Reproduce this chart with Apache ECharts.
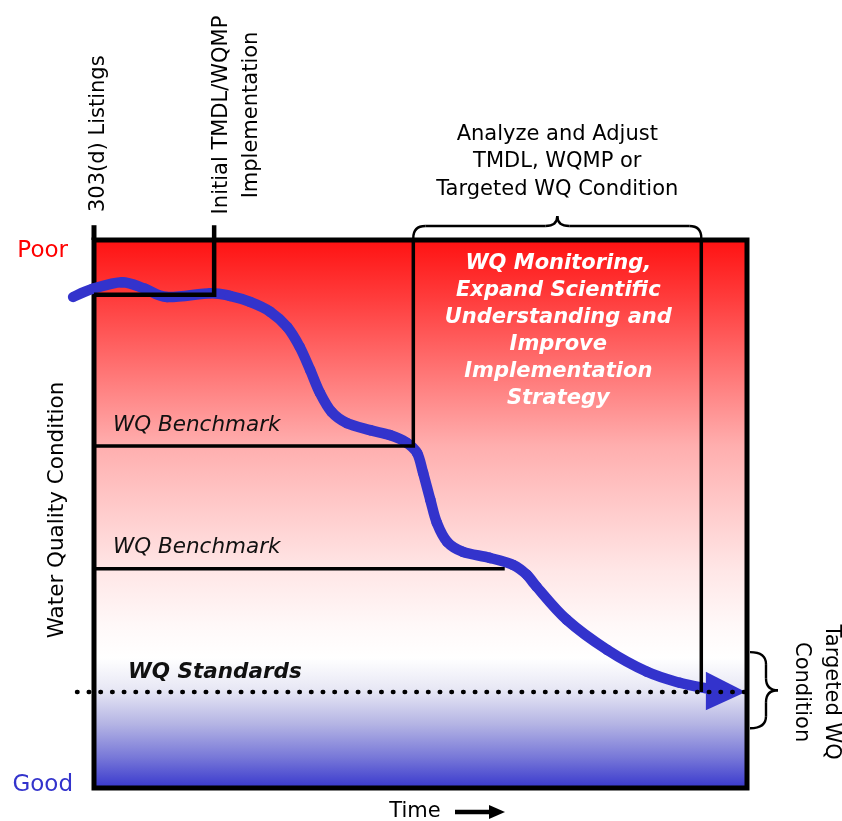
<!DOCTYPE html>
<html><head><meta charset="utf-8">
<script src="https://cdn.jsdelivr.net/npm/echarts@6/dist/echarts.min.js"></script>
<style>html,body{margin:0;padding:0;background:#fff}#c{width:842px;height:821px}</style>
</head><body><div id="c"></div>
<script>
// ---------- data: time runs 0..100 across the box, condition 0 = Good .. 100 = Poor ----------
const curveTime = [-3.2, -0.2, 4.3, 7.8, 11.2, 17.8, 20.8, 23.9, 27.0, 29.6, 31.5, 33.1, 34.6, 36.4, 38.7, 42.3, 45.3, 47.9, 49.5, 50.4, 51.5, 52.5, 54.1, 56.5, 60.6, 64.2, 66.3, 67.8, 72.4, 78.6, 84.7, 89.7, 93.7];
const curveCond = [89.6, 91.1, 92.3, 91.1, 89.6, 90.3, 89.8, 88.7, 86.9, 84.1, 80.5, 76.3, 72.1, 68.6, 66.6, 65.3, 64.4, 63.0, 61.1, 57.5, 52.6, 48.4, 44.9, 43.1, 42.0, 40.7, 38.9, 36.7, 30.7, 25.2, 21.2, 19.2, 18.2];
const arrowHead = [93.7, 21.2, 14.2, 99.8, 17.5]; // base time, base top, base bottom, tip time, tip condition

const listingTime = 0;
const tmdlTime = 18.4;
const adjustStart = 48.9;
const adjustEnd = 93.0;
const bench2End = 62.9;
const markerTop = 102.7;
const initialLevel = 90.0;
const bench1Level = 62.4;
const bench2Level = 40.0;
const standardLevel = 17.5;
const standardStart = -2.6;
const targetHigh = 24.8;
const targetLow = 10.9;

const eventLabels = ['303(d) Listings', 'Initial TMDL/WQMP\nImplementation'];
const adjustLabel = 'Analyze and Adjust\nTMDL, WQMP or\nTargeted WQ Condition';
const monitorLabel = 'WQ Monitoring,\nExpand Scientific\nUnderstanding and\nImprove\nImplementation\nStrategy';
const benchLabel = 'WQ Benchmark';
const standardLabel = 'WQ Standards';
const targetLabel = 'Targeted WQ\nCondition';
const yTitle = 'Water Quality Condition';
const yEnds = ['Poor', 'Good'];
const xTitle = 'Time';

// braces: [t1, c1, t2, c2]
const braces = [[adjustStart, 100, adjustEnd, 100], [100, targetHigh, 100, targetLow]];

// ---------- chart ----------
const FONT = '"DejaVu Sans", "Liberation Sans", sans-serif';
const BLUE = '#3333cc';
const chart = echarts.init(document.getElementById('c'));

const bg = new echarts.graphic.LinearGradient(0, 0, 0, 1, [
  {offset: 0, color: '#ff1010'},
  {offset: 0.11, color: '#ff3c3c'},
  {offset: 0.376, color: '#ffaeae'},
  {offset: 0.6, color: '#ffe6e6'},
  {offset: 0.7, color: '#fff8f8'},
  {offset: 0.76, color: '#ffffff'},
  {offset: 0.82, color: '#e6e6f4'},
  {offset: 0.88, color: '#b4b4e4'},
  {offset: 0.94, color: '#7878d8'},
  {offset: 1, color: BLUE}
]);

function seg(pts, width, extra) {
  return Object.assign({
    type: 'line', data: pts, symbol: 'none', clip: false, silent: true, z: 4,
    lineStyle: {color: '#000', width: width, join: 'miter', cap: 'butt'}
  }, extra || {});
}

// smooth trend curve: Catmull-Rom segment i -> i+1 through the data points
function curveItem(params, api) {
  const i = params.dataIndex;
  const n = curveTime.length;
  if (i >= n - 1) return null;
  const c = k => api.coord([curveTime[Math.max(0, Math.min(n - 1, k))], curveCond[Math.max(0, Math.min(n - 1, k))]]);
  const p0 = c(i - 1), p1 = c(i), p2 = c(i + 1), p3 = c(i + 2);
  return {type: 'bezierCurve', shape: {
      x1: p1[0], y1: p1[1], x2: p2[0], y2: p2[1],
      cpx1: p1[0] + (p2[0] - p0[0]) / 6, cpy1: p1[1] + (p2[1] - p0[1]) / 6,
      cpx2: p2[0] - (p3[0] - p1[0]) / 6, cpy2: p2[1] - (p3[1] - p1[1]) / 6},
    style: {stroke: BLUE, lineWidth: 10.5, lineCap: 'round', fill: null}};
}

function braceItem(params, api) {
  const i = params.dataIndex;
  const a = api.coord([api.value(0), api.value(1)]);
  const b = api.coord([api.value(2), api.value(3)]);
  const L = Math.hypot(b[0] - a[0], b[1] - a[1]);
  const t = [(b[0] - a[0]) / L, (b[1] - a[1]) / L];
  const nn = [t[1], -t[0]];
  const off = i === 0 ? 2 : 3;
  const d = i === 0 ? 12 : 16;
  const e = i === 0 ? 10 : 12;
  const r = Math.min(12, L / 6);
  const m = L / 2;
  const P = (u, v) => [a[0] + u * t[0] + (v + off) * nn[0], a[1] + u * t[1] + (v + off) * nn[1]];
  const quad = (p0, c, p1) => ({type: 'bezierCurve', shape: {x1: p0[0], y1: p0[1], cpx1: c[0], cpy1: c[1], x2: p1[0], y2: p1[1]}, style: {stroke: '#000', lineWidth: 2.4, fill: null}});
  const line = (p0, p1) => ({type: 'line', shape: {x1: p0[0], y1: p0[1], x2: p1[0], y2: p1[1]}, style: {stroke: '#000', lineWidth: 2.4}});
  return {type: 'group', children: [
    quad(P(0, 0), P(0, d), P(r, d)),
    line(P(r, d), P(m - r, d)),
    quad(P(m - r, d), P(m, d), P(m, d + e)),
    quad(P(m, d + e), P(m, d), P(m + r, d)),
    line(P(m + r, d), P(L - r, d)),
    quad(P(L - r, d), P(L, d), P(L, 0))
  ]};
}

const option = {
  animation: false,
  grid: {left: 94, right: 95, top: 240, bottom: 33, show: true, backgroundColor: bg, borderColor: '#000', borderWidth: 5, z: 0},
  xAxis: {type: 'value', min: 0, max: 100, show: false},
  yAxis: {type: 'value', min: 0, max: 100, show: false},
  series: [
    {type: 'custom', clip: false, silent: true, z: 2, data: curveTime.map((t, i) => [t, curveCond[i]]), renderItem: curveItem},
    {type: 'custom', clip: false, silent: true, z: 3, data: [arrowHead],
      renderItem: (p, api) => {
        const p1 = api.coord([api.value(0), api.value(1)]);
        const p2 = api.coord([api.value(0), api.value(2)]);
        const p3 = api.coord([api.value(3), api.value(4)]);
        return {type: 'polygon', shape: {points: [p1, p2, p3]}, style: {fill: BLUE}};
      }},
    seg([[listingTime, 100], [listingTime, markerTop]], 5),
    seg([[tmdlTime, markerTop], [tmdlTime, initialLevel], [listingTime, initialLevel]], 4.5),
    seg([[0, bench1Level], [adjustStart, bench1Level], [adjustStart, 100]], 3.5),
    seg([[0, bench2Level], [bench2End, bench2Level]], 3.5),
    seg([[adjustEnd, 100], [adjustEnd, standardLevel]], 3.5),
    {type: 'custom', clip: false, silent: true, z: 6, data: [[standardStart, standardLevel, 100]],
      renderItem: (p, api) => {
        const a = api.coord([api.value(0), api.value(1)]);
        const b = api.coord([api.value(2), api.value(1)]);
        return {type: 'line', shape: {x1: a[0], y1: a[1], x2: b[0], y2: b[1]},
          style: {stroke: '#000', lineWidth: 4.5, lineCap: 'round', lineDash: [0.5, 11.2]}};
      }},
    {type: 'custom', clip: false, silent: true, z: 5, data: braces, renderItem: braceItem}
  ]
};
chart.setOption(option);

// ---------- text annotations placed from the data scale ----------
const px = (t, c) => chart.convertToPixel({gridIndex: 0}, [t, c]);
const boxTL = px(0, 100), boxBR = px(100, 0);
function txt(text, x, y, o) {
  o = o || {};
  return {type: 'text', x: x, y: y, rotation: o.rot || 0, z: 10, silent: true,
    style: {text: text, fill: o.fill || '#000', fontFamily: FONT, fontSize: o.size || 20,
      fontWeight: o.weight || 'normal', fontStyle: o.style || 'normal',
      align: o.align || 'center', verticalAlign: o.va || 'middle',
      textAlign: o.align || 'center', textVerticalAlign: o.va || 'middle',
      lineHeight: o.lh || 24}};
}
const midAdjust = px((adjustStart + adjustEnd) / 2, 100)[0];
const g = [];
g.push(txt(eventLabels[0], px(listingTime, 100)[0] + 5, boxTL[1] - 28, {rot: Math.PI / 2, align: 'left', size: 21}));
g.push(txt(eventLabels[1], px(tmdlTime, 100)[0] + 22, boxTL[1] - 125, {rot: Math.PI / 2, size: 21, lh: 30}));
g.push(txt(adjustLabel, midAdjust, boxTL[1] - 78, {size: 21, lh: 27.5}));
g.push(txt(monitorLabel, midAdjust + 1, boxTL[1] + 91.5, {size: 21, lh: 27, fill: '#fff', weight: 'bold', style: 'italic'}));
g.push(txt(benchLabel, boxTL[0] + 19, px(0, bench1Level)[1] - 21, {align: 'left', size: 21.5, style: 'italic', fill: '#111'}));
g.push(txt(benchLabel, boxTL[0] + 19, px(0, bench2Level)[1] - 21, {align: 'left', size: 21.5, style: 'italic', fill: '#111'}));
g.push(txt(standardLabel, boxTL[0] + 34, px(0, standardLevel)[1] - 20, {align: 'left', size: 21.5, style: 'italic', weight: 'bold', fill: '#111'}));
g.push(txt(targetLabel, boxBR[0] + 69, px(100, standardLevel)[1], {rot: -Math.PI / 2, size: 21, lh: 30}));
g.push(txt(yTitle, boxTL[0] - 37, (boxTL[1] + boxBR[1]) / 2 - 4, {rot: Math.PI / 2, size: 21.5}));
g.push(txt(yEnds[0], boxTL[0] - 26, boxTL[1] + 11, {align: 'right', size: 23, fill: '#ff0000'}));
g.push(txt(yEnds[1], boxTL[0] - 21, boxBR[1] - 3, {align: 'right', size: 23, fill: BLUE}));
const timeX = (boxTL[0] + boxBR[0]) / 2 - 5.5, timeY = boxBR[1] + 24;
g.push(txt(xTitle, timeX, timeY, {size: 21}));
g.push({type: 'line', z: 10, silent: true, shape: {x1: timeX + 40, y1: timeY, x2: timeX + 77, y2: timeY}, style: {stroke: '#000', lineWidth: 4.5}});
g.push({type: 'polygon', z: 10, silent: true, shape: {points: [[timeX + 74, timeY - 7], [timeX + 74, timeY + 7], [timeX + 90, timeY]]}, style: {fill: '#000'}});
chart.setOption({graphic: g});
</script>
</body></html>
